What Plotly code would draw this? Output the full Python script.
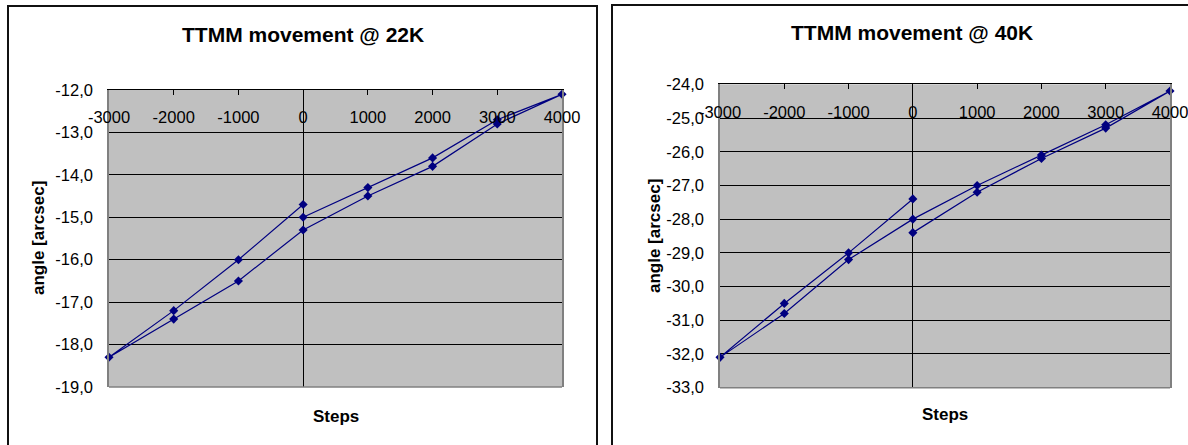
import plotly.graph_objects as go

# ---- data ----
steps = [0, 1000, 2000, 3000, 4000, 3000, 2000, 1000, 0, -1000, -2000, -3000, -2000, -1000, 0]
angle_22K = [-15.0, -14.3, -13.6, -12.7, -12.1, -12.8, -13.8, -14.5, -15.3, -16.5, -17.4, -18.3, -17.2, -16.0, -14.7]
angle_40K = [-28.4, -27.2, -26.2, -25.3, -24.2, -25.2, -26.1, -27.0, -28.0, -29.2, -30.8, -32.1, -30.5, -29.0, -27.4]
titles = ["TTMM movement @ 22K", "TTMM movement @ 40K"]
x_title = "Steps"
y_title = "angle [arcsec]"
x_ticks = [-3000, -2000, -1000, 0, 1000, 2000, 3000, 4000]
y_ticks_22K = [-19, -18, -17, -16, -15, -14, -13, -12]
y_ticks_40K = [-33, -32, -31, -30, -29, -28, -27, -26, -25, -24]

W, H = 1188, 445
def px(x):
    return x / W
def py(y):
    return (H - y) / H

NAVY = "#000080"
FONT = "Liberation Sans, Arial, sans-serif"

fig = go.Figure()
for i, (ang, name) in enumerate([(angle_22K, "22K"), (angle_40K, "40K")]):
    fig.add_trace(go.Scatter(
        x=steps, y=ang, mode="lines+markers", name=name,
        xaxis="x" if i == 0 else "x2", yaxis="y" if i == 0 else "y2",
        line=dict(color=NAVY, width=1.2),
        marker=dict(symbol="diamond", size=7, color=NAVY),
        cliponaxis=False, showlegend=False,
    ))

domains = [
    dict(x=[px(109), px(562)], y=[py(387), py(90)]),
    dict(x=[px(720), px(1170)], y=[py(387.7), py(84.3)]),
]
y_ticks = [y_ticks_22K, y_ticks_40K]

def xaxis_cfg(i):
    return dict(
        domain=domains[i]["x"], range=[x_ticks[0], x_ticks[-1]],
        anchor="y" if i == 0 else "y2", automargin=False,
        side="top", showline=True, linecolor="black", linewidth=1,
        ticks="inside", ticklen=5, tickcolor="black", tickwidth=1,
        ticklabelposition="inside", ticklabeloverflow="allow", ticklabelstandoff=17,
        tickmode="array", tickvals=x_ticks, ticktext=[str(v) for v in x_ticks],
        showgrid=False, zeroline=True, zerolinecolor="black", zerolinewidth=1,
        tickfont=dict(family=FONT, size=16.5, color="black"),
        fixedrange=True,
    )

def yaxis_cfg(i):
    yt = y_ticks[i]
    return dict(
        domain=domains[i]["y"], range=[yt[0], yt[-1]],
        anchor="x" if i == 0 else "x2", automargin=False,
        showline=True, mirror=True, linecolor="#808080", linewidth=1.5,
        ticks="", tickmode="array", tickvals=yt,
        ticktext=[("%.1f" % v).replace(".", ",") for v in yt],
        showgrid=True, gridcolor="black", gridwidth=1, zeroline=False,
        ticklabelstandoff=11,
        tickfont=dict(family=FONT, size=16.5, color="black"),
        fixedrange=True,
    )

fig.update_layout(
    width=W, height=H, autosize=False, margin=dict(l=0, r=0, t=0, b=0, pad=0),
    paper_bgcolor="white", plot_bgcolor="#C0C0C0",
    xaxis=xaxis_cfg(0), yaxis=yaxis_cfg(0),
    xaxis2=xaxis_cfg(1), yaxis2=yaxis_cfg(1),
)

# outer chart frames
fig.add_shape(type="rect", xref="paper", yref="paper",
              x0=px(8), x1=px(597), y0=py(460), y1=py(6),
              line=dict(color="#111111", width=2), layer="above")
fig.add_shape(type="rect", xref="paper", yref="paper",
              x0=px(612), x1=px(1215), y0=py(460), y1=py(5),
              line=dict(color="#111111", width=2), layer="above")

# gray bottom border of each plot area
for d in domains:
    fig.add_shape(type="line", xref="paper", yref="paper",
                  x0=d["x"][0], x1=d["x"][1], y0=d["y"][0], y1=d["y"][0],
                  line=dict(color="#808080", width=1.5), layer="above")

# titles and axis titles
ann = [
    (titles[0], 303, 35, 21, 0),
    (titles[1], 912, 32.5, 21, 0),
    (x_title, 335.5, 416, 17, 0),
    (x_title, 945, 414, 17, 0),
    (y_title, 38, 238, 17, -90),
    (y_title, 654, 236, 17, -90),
]
for text, x, y, size, rot in ann:
    fig.add_annotation(text="<b>%s</b>" % text, xref="paper", yref="paper",
                       x=px(x), y=py(y), xanchor="center", yanchor="middle",
                       showarrow=False, textangle=rot,
                       font=dict(family=FONT, size=size, color="black"))

fig.write_html("out.html", config={"displayModeBar": False},
               post_script="document.body.style.margin='0';document.body.style.overflow='hidden';")
